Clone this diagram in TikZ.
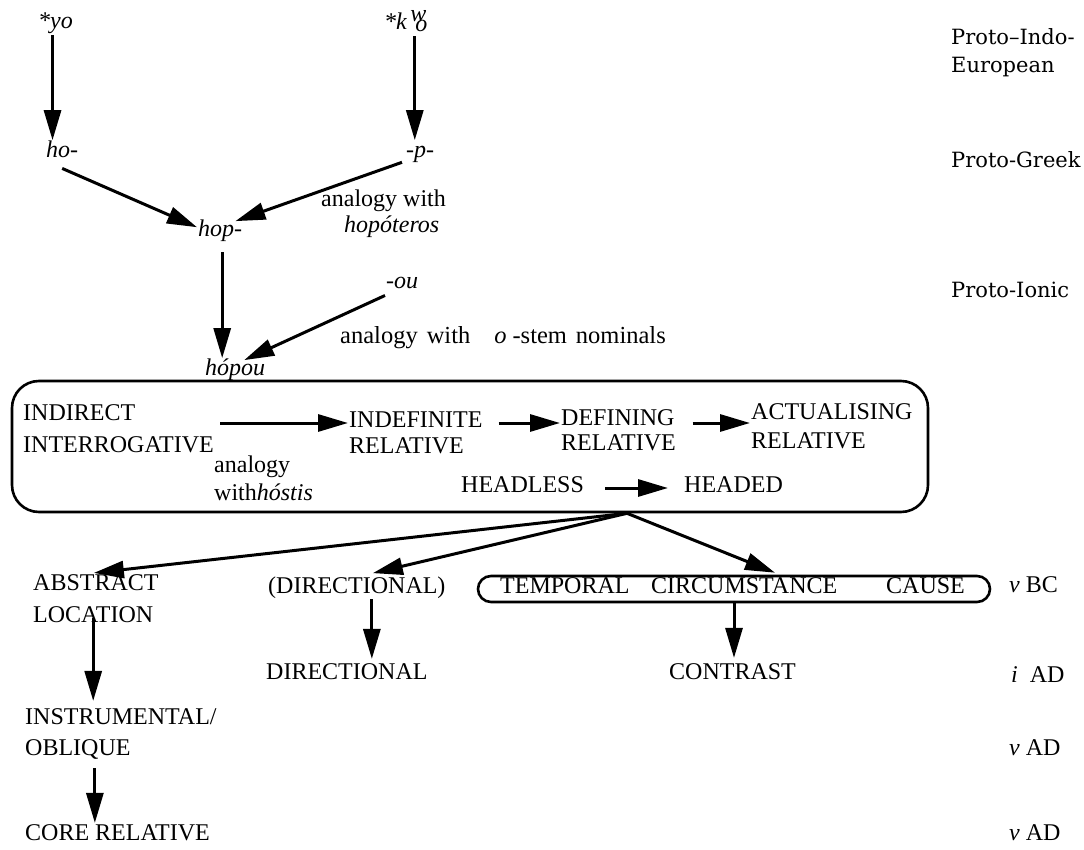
\documentclass[tikz,border=0pt]{standalone}
\usepackage{fontspec}
\setmainfont{Liberation Serif}
\newfontfamily\protofont{DejaVu Serif}
\usetikzlibrary{arrows.meta}
\begin{document}
\begin{tikzpicture}[x=1pt,y=-1pt,
  txt/.style={inner sep=1pt, anchor=base west, font=\fontsize{24}{28}\selectfont},
  itx/.style={inner sep=1pt, anchor=base west, font=\fontsize{24}{28}\selectfont\itshape},
  proto/.style={inner sep=1pt, anchor=base west, font=\protofont\fontsize{21}{25}\selectfont},
  arr/.style={line width=3pt, -{Triangle[length=30pt,width=17pt]}},
  frame/.style={draw, line width=2.6pt, inner sep=0pt}]
\useasboundingbox (0,0) rectangle (1084,850);

% top part
\node[itx] (yo) at (37,29) {*yo};
\node[itx] (kwo) at (383,30) {*k\hspace{3.5pt}\rlap{\raisebox{8pt}{w}}\hspace{5pt}\raisebox{-2pt}{o}};
\node[itx] (ho) at (45,158) {ho-};
\node[itx] (p) at (405,158) {-p-};
\node[txt] (an1) at (320,207) {analogy with};
\node[itx] (an2) at (343,233) {hopóteros};
\node[itx] (hop) at (197,237) {hop-};
\node[itx] (ou) at (385,289) {-ou};
\node[txt, font=\fontsize{24.5}{28}\selectfont] (an3) at (339,343) {\spaceskip=9pt\relax analogy with\hspace{24pt}\textit{o}\hspace{6pt}-stem nominals};
\node[itx] (hopou) at (204,375) {hópou};

% big box
\node[frame, rounded corners=27pt, minimum width=916pt, minimum height=131pt] (box) at (470,446.5) {};
\node[txt] (ind1) at (22,420) {INDIRECT};
\node[txt] (ind2) at (22,452) {INTERROGATIVE};
\node[txt] (idf1) at (348,427) {INDEFINITE};
\node[txt] (idf2) at (348,453) {RELATIVE};
\node[txt] (def1) at (560,425) {DEFINING};
\node[txt] (def2) at (560,450) {RELATIVE};
\node[txt] (act1) at (750,419) {ACTUALISING};
\node[txt] (act2) at (750,448) {RELATIVE};
\node[txt] (an4) at (213,472) {analogy};
\node[txt] (an5) at (213,500) {with\textit{hóstis}};
\node[txt] (hless) at (460,492) {HEADLESS};
\node[txt] (headed) at (683,492) {HEADED};

% lower part
\node[txt] (abs1) at (32,590) {ABSTRACT};
\node[txt] (abs2) at (32,622) {LOCATION};
\node[txt] (dir1) at (267,593) {(DIRECTIONAL)};
\node[frame, rounded corners=13pt, minimum width=512pt, minimum height=26pt] (oval) at (734,589) {};
\node[txt] (temp) at (499,593) {TEMPORAL};
\node[txt] (circ) at (650,593) {CIRCUMSTANCE};
\node[txt] (cause) at (885,593) {CAUSE};
\node[txt] (dir2) at (265,679) {DIRECTIONAL};
\node[txt] (contr) at (668,679) {CONTRAST};
\node[txt] (ins1) at (24,724) {INSTRUMENTAL/};
\node[txt] (ins2) at (24,755) {OBLIQUE};
\node[txt] (core) at (24,840) {CORE RELATIVE};

% right labels
\node[proto] (pie1) at (950,45) {Proto–Indo-};
\node[proto] (pie2) at (950,73) {European};
\node[proto] (pg) at (950,168) {Proto-Greek};
\node[proto] (pi) at (950,298) {Proto-Ionic};
\node[txt] (d1) at (1008,592) {\textit{v} BC};
\node[txt] (d2) at (1010,682) {\textit{i}\hspace{12pt}AD};
\node[txt] (d3) at (1008,755) {\textit{v} AD};
\node[txt] (d4) at (1008,840) {\textit{v} AD};

% connectors
\draw[arr] ([xshift=-3pt]yo.south) -- ([xshift=-3pt]yo.south |- ho.north);
\draw[arr] ([xshift=9pt,yshift=-3pt]kwo.south) -- ([xshift=9pt]kwo.south |- ho.north);
\draw[arr] ([yshift=-9pt]ho.south) -- ([yshift=4pt]hop.west);
\draw[arr] ([xshift=-3pt,yshift=2pt]p.south west) -- ([xshift=-8pt,yshift=-2pt]hop.north east);
\draw[arr] ([xshift=2pt,yshift=-9pt]hop.south) -- ([xshift=2pt,yshift=-1pt]hop.south |- hopou.north);
\draw[arr] ([yshift=-5pt]ou.south west) -- ([xshift=9pt,yshift=-3pt]hopou.north);

\draw[arr] ([xshift=5pt,yshift=4pt]ind2.east |- idf1.base west) -- ([yshift=4pt]idf1.base west);
\draw[arr] ([xshift=15pt,yshift=4pt]idf1.base east) -- ([yshift=4pt]idf1.base east -| def1.west);
\draw[arr] ([xshift=17pt,yshift=2pt]def1.base east) -- ([yshift=2pt]def1.base east -| act1.west);
\draw[arr] ([xshift=20pt,yshift=4pt]hless.base east) -- ([xshift=-15pt,yshift=4pt]hless.base east -| headed.west);

\coordinate (fan) at ([xshift=157pt]box.south);
\draw[arr] (fan) -- ([xshift=-2pt]abs1.north);
\draw[arr] (fan) -- ([xshift=16pt,yshift=2pt]dir1.north);
\draw[arr] (fan) -- ([xshift=41pt,yshift=2pt]oval.north);

\draw[arr] ([xshift=15pt]dir1.south) -- ([xshift=15pt,yshift=3pt]dir1.south |- dir2.north);
\draw[arr] (oval.south) -- ([yshift=4pt]oval.south |- contr.north);
\draw[arr] ([yshift=5pt]abs2.south) -- ([yshift=6pt]abs2.south |- ins1.north);
\draw[arr] ([xshift=17pt,yshift=-8pt]ins2.south) -- ([xshift=17pt]ins2.south |- core.north);
\end{tikzpicture}
\end{document}
